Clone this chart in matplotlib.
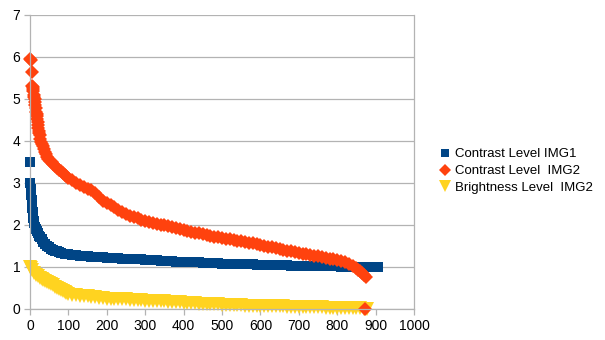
import matplotlib
matplotlib.use("Agg")
import matplotlib.pyplot as plt

plt.rcParams["font.family"] = ["Liberation Sans", "DejaVu Sans"]

# Contrast Level IMG1 (blue squares)
img1_x = [0, 1, 2, 3, 4, 5, 6, 7, 8, 9, 10, 11, 13, 15, 17, 20, 23, 26, 30, 35,
          40, 45, 50, 55, 60, 65, 70, 75, 80, 90, 100] + list(range(110, 910, 10)) + [905]
img1_y = [3.5, 3.0, 2.85, 2.72, 2.6, 2.5, 2.4, 2.32, 2.25, 2.17, 2.1, 2.05, 1.96, 1.91,
          1.86, 1.8, 1.75, 1.71, 1.66, 1.6, 1.55, 1.51, 1.47, 1.44, 1.41, 1.39, 1.37,
          1.35, 1.34, 1.32, 1.3,
          1.29, 1.28, 1.27, 1.27, 1.26, 1.25, 1.24, 1.23, 1.23, 1.22,   # 110-200
          1.22, 1.21, 1.21, 1.2, 1.2, 1.19, 1.19, 1.18, 1.18, 1.17,     # 210-300
          1.17, 1.16, 1.16, 1.15, 1.15, 1.14, 1.14, 1.13, 1.13, 1.12,   # 310-400
          1.12, 1.11, 1.11, 1.11, 1.1, 1.1, 1.09, 1.09, 1.09, 1.08,     # 410-500
          1.08, 1.08, 1.07, 1.07, 1.07, 1.06, 1.06, 1.06, 1.05, 1.05,   # 510-600
          1.05, 1.05, 1.04, 1.04, 1.04, 1.04, 1.04, 1.03, 1.03, 1.03,   # 610-700
          1.03, 1.03, 1.02, 1.02, 1.02, 1.02, 1.02, 1.02, 1.02, 1.02,   # 710-800
          1.01, 1.01, 1.01, 1.01, 1.01, 1.01, 1.0, 1.0, 1.0, 1.0,       # 810-900
          1.0]

# Contrast Level  IMG2 (orange diamonds)
img2_x = [0, 2, 4, 6, 7, 8, 9, 10, 11, 12, 13, 14, 15, 16, 17, 18, 19, 20, 21, 22,
          23, 24, 25, 27, 29, 31, 33, 36, 39, 42, 45, 48, 52, 56, 60, 65, 70, 75,
          80, 85, 90, 95, 100] + list(range(110, 880, 10)) + [855, 865, 875, 873]
img2_y = [5.95, 5.93, 5.65, 5.32, 5.28, 5.25, 5.18, 5.1, 5.05, 5.0, 4.92, 4.85, 4.78,
          4.7, 4.65, 4.6, 4.52, 4.45, 4.38, 4.3, 4.25, 4.2, 4.15, 4.05, 3.98, 3.92,
          3.87, 3.8, 3.74, 3.68, 3.63, 3.58, 3.53, 3.49, 3.45, 3.4, 3.36, 3.32, 3.28,
          3.24, 3.2, 3.16, 3.13,
          3.07, 3.01, 2.95, 2.9, 2.86, 2.83, 2.77, 2.66, 2.58, 2.53,    # 110-200
          2.48, 2.42, 2.36, 2.3, 2.26, 2.22, 2.19, 2.16, 2.13, 2.1,     # 210-300
          2.08, 2.05, 2.03, 2.01, 1.99, 1.97, 1.95, 1.93, 1.9, 1.88,    # 310-400
          1.86, 1.83, 1.81, 1.8, 1.78, 1.76, 1.74, 1.72, 1.71, 1.69,    # 410-500
          1.67, 1.66, 1.64, 1.63, 1.61, 1.59, 1.57, 1.56, 1.54, 1.52,   # 510-600
          1.5, 1.48, 1.47, 1.45, 1.43, 1.41, 1.39, 1.38, 1.36, 1.34,    # 610-700
          1.32, 1.31, 1.29, 1.27, 1.26, 1.24, 1.22, 1.2, 1.19, 1.17,    # 710-800
          1.14, 1.11, 1.08, 1.03, 0.98, 0.9, 0.8,                      # 810-870
          0.94, 0.85, 0.76, 0.0]

# Brightness Level  IMG2 (yellow triangles)
bri_x = [0, 3, 6, 10, 15, 20, 25, 30, 35, 40, 45, 50, 55, 60, 65, 70, 75, 80, 85,
         90, 95, 100] + list(range(110, 880, 10)) + [877]
bri_y = [1.0, 0.97, 0.92, 0.85, 0.81, 0.78, 0.75, 0.72, 0.69, 0.67, 0.64, 0.62, 0.59,
         0.56, 0.53, 0.5, 0.48, 0.46, 0.43, 0.4, 0.38, 0.36,
         0.34, 0.33, 0.32, 0.31, 0.3, 0.29, 0.28, 0.27, 0.26, 0.25,    # 110-200
         0.25, 0.24, 0.24, 0.23, 0.23, 0.22, 0.22, 0.21, 0.21, 0.2,    # 210-300
         0.2, 0.19, 0.19, 0.18, 0.18, 0.17, 0.17, 0.16, 0.16, 0.15,    # 310-400
         0.15, 0.14, 0.14, 0.13, 0.13, 0.12, 0.12, 0.11, 0.11, 0.1,    # 410-500
         0.1, 0.1, 0.09, 0.09, 0.09, 0.08, 0.08, 0.08, 0.07, 0.07,     # 510-600
         0.07, 0.07, 0.06, 0.06, 0.06, 0.06, 0.05, 0.05, 0.05, 0.05,   # 610-700
         0.05, 0.04, 0.04, 0.04, 0.04, 0.04, 0.03, 0.03, 0.03, 0.03,   # 710-800
         0.03, 0.02, 0.02, 0.02, 0.02, 0.02, 0.01,                    # 810-870
         0.01]

labels = ["Contrast Level IMG1", "Contrast Level  IMG2", "Brightness Level  IMG2"]
colors = ["#004586", "#ff420e", "#ffd320"]

fig = plt.figure(figsize=(6.05, 3.4), dpi=100)
ax = fig.add_axes([30 / 605, 1 - 309 / 340, 384 / 605, 294 / 340])

ax.plot(bri_x, bri_y, "v", color=colors[2], ms=10, mew=0, clip_on=False, label=labels[2])
ax.plot(img1_x, img1_y, "s", color=colors[0], ms=7.5, mew=0, clip_on=False, label=labels[0])
ax.plot(img2_x, img2_y, "D", color=colors[1], ms=7.5, mew=0, clip_on=False, label=labels[1])

ax.set_xlim(0, 1000)
ax.set_ylim(0, 7)
ax.set_xticks(range(0, 1001, 100))
ax.set_yticks(range(0, 8))
ax.grid(axis="y", color="#b3b3b3", lw=0.9)
ax.set_axisbelow(True)
for s in ax.spines.values():
    s.set_color("#b3b3b3")
    s.set_linewidth(0.9)
ax.spines["top"].set_visible(False)
ax.tick_params(direction="out", length=4, width=0.9, color="#b3b3b3",
               labelsize=10, labelcolor="#000000", pad=3)

h, l = ax.get_legend_handles_labels()
order = [1, 2, 0]
fig.legend([h[i] for i in order], [l[i] for i in order], loc="center left",
           bbox_to_anchor=(440 / 605, 1 - 171 / 340), frameon=False, fontsize=9.5,
           handlelength=0.7, handletextpad=0.4, labelspacing=0.35, borderpad=0,
           borderaxespad=0, markerscale=0.8)

fig.savefig("out.png", dpi=100)
